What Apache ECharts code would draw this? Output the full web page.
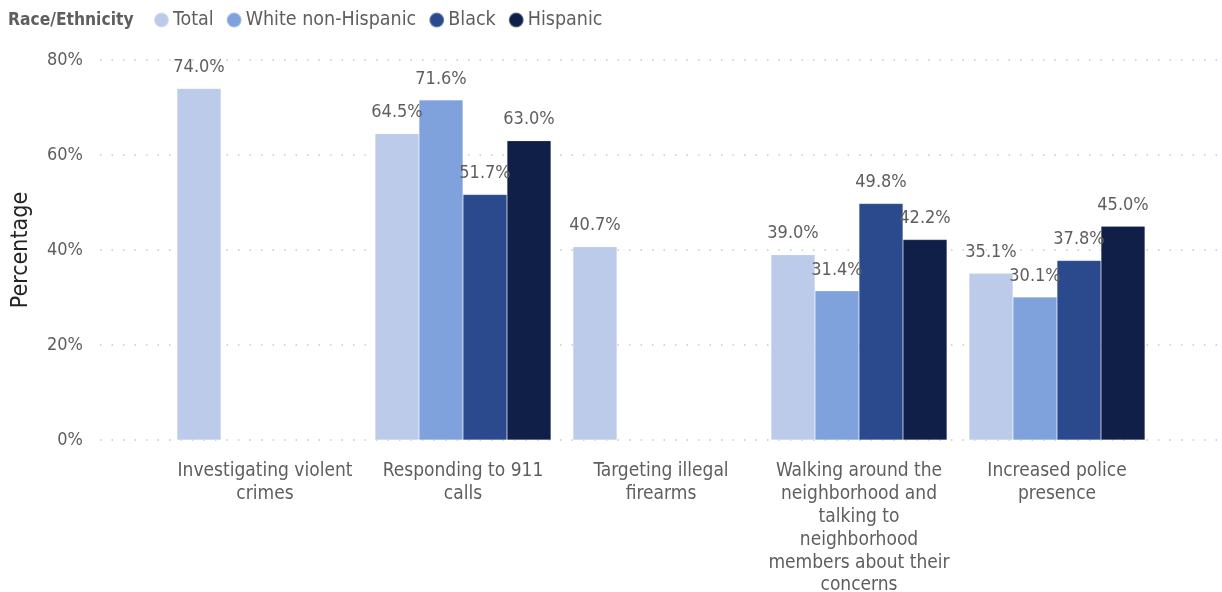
<!DOCTYPE html>
<html>
<head>
<meta charset="utf-8">
<style>
  html, body { margin: 0; padding: 0; background: #ffffff; }
  #chart { width: 1222px; height: 592px; }
</style>
<script src="https://cdn.jsdelivr.net/npm/echarts@6/dist/echarts.min.js"></script>
</head>
<body>
<div id="chart"></div>
<script>
// Police activities, share of respondents by race/ethnicity
const categories = [
  "Investigating violent\ncrimes",
  "Responding to 911\ncalls",
  "Targeting illegal\nfirearms",
  "Walking around the\nneighborhood and\ntalking to\nneighborhood\nmembers about their\nconcerns",
  "Increased police\npresence"
];
const seriesNames = ["Total", "White non-Hispanic", "Black", "Hispanic"];
const totalValues    = [74.0, 64.5, 40.7, 39.0, 35.1];
const whiteValues    = [null, 71.6, null, 31.4, 30.1];
const blackValues    = [null, 51.7, null, 49.8, 37.8];
const hispanicValues = [null, 63.0, null, 42.2, 45.0];
const yTicks = [0, 20, 40, 60, 80];

const colors = ["#BCCBEA", "#7FA1DC", "#2B4A8E", "#0F1F48"];
const FONT = "DejaVu Sans Condensed, Roboto, sans-serif";
const GRAY = "#605E5C";
const FS = 18;

const chart = echarts.init(document.getElementById("chart"), null, { renderer: "canvas" });

const plotTop = 60, plotBottom = 152;

function barSeries(name, data, idx) {
  return {
    name: name,
    type: "bar",
    xAxisIndex: 1,
    yAxisIndex: 1,
    data: data,
    barWidth: 44,
    barGap: "0%",
    itemStyle: { color: colors[idx], borderColor: "rgba(255,255,255,0.35)", borderWidth: 0.5 },
    label: {
      show: true,
      position: "top",
      distance: 12,
      color: GRAY,
      fontFamily: FONT,
      fontSize: FS,
      formatter: p => p.value == null ? "" : p.value.toFixed(1) + "%"
    }
  };
}

chart.setOption({
  animation: false,
  textStyle: { fontFamily: FONT },
  graphic: [{
    type: "text",
    left: 8,
    top: 12,
    style: { text: "Race/Ethnicity", fontFamily: FONT, fontSize: 17.3, fontWeight: "bold", fill: GRAY }
  }],
  legend: {
    left: 148,
    top: 5,
    icon: "circle",
    itemWidth: 15,
    itemHeight: 15,
    itemGap: 12,
    textStyle: { color: GRAY, fontFamily: FONT, fontSize: 19.5, padding: [0, 0, 0, -1] },
    data: seriesNames
  },
  grid: [
    { left: 100, right: 2, top: plotTop, bottom: plotBottom, outerBoundsMode: "none", containLabel: false },
    { left: 166, width: 990, top: plotTop, bottom: plotBottom, outerBoundsMode: "none", containLabel: false }
  ],
  xAxis: [
    { type: "category", gridIndex: 0, data: [""], show: false },
    {
      type: "category",
      gridIndex: 1,
      data: categories,
      axisLine: { show: false },
      axisTick: { show: false },
      axisLabel: {
        interval: 0,
        color: GRAY,
        fontFamily: FONT,
        fontSize: 19,
        lineHeight: 22.8,
        margin: 20,
        align: "center"
      }
    }
  ],
  yAxis: [
    {
      type: "value",
      gridIndex: 0,
      min: 0,
      max: 80,
      interval: 20,
      name: "Percentage",
      nameLocation: "middle",
      nameGap: 67,
      nameRotate: 90,
      nameTextStyle: { color: "#252423", fontFamily: FONT, fontSize: 23 },
      axisLine: { show: false },
      axisTick: { show: false },
      axisLabel: {
        color: GRAY,
        fontFamily: FONT,
        fontSize: FS,
        margin: 17,
        formatter: v => yTicks.includes(v) ? v + "%" : ""
      },
      splitLine: { lineStyle: { color: "#C8C6C4", type: [1.5, 10], width: 1.5 } }
    },
    {
      type: "value",
      gridIndex: 1,
      min: 0,
      max: 80,
      interval: 20,
      show: false,
      splitLine: { show: false }
    }
  ],
  series: [
    barSeries(seriesNames[0], totalValues, 0),
    barSeries(seriesNames[1], whiteValues, 1),
    barSeries(seriesNames[2], blackValues, 2),
    barSeries(seriesNames[3], hispanicValues, 3)
  ]
});
</script>
</body>
</html>
